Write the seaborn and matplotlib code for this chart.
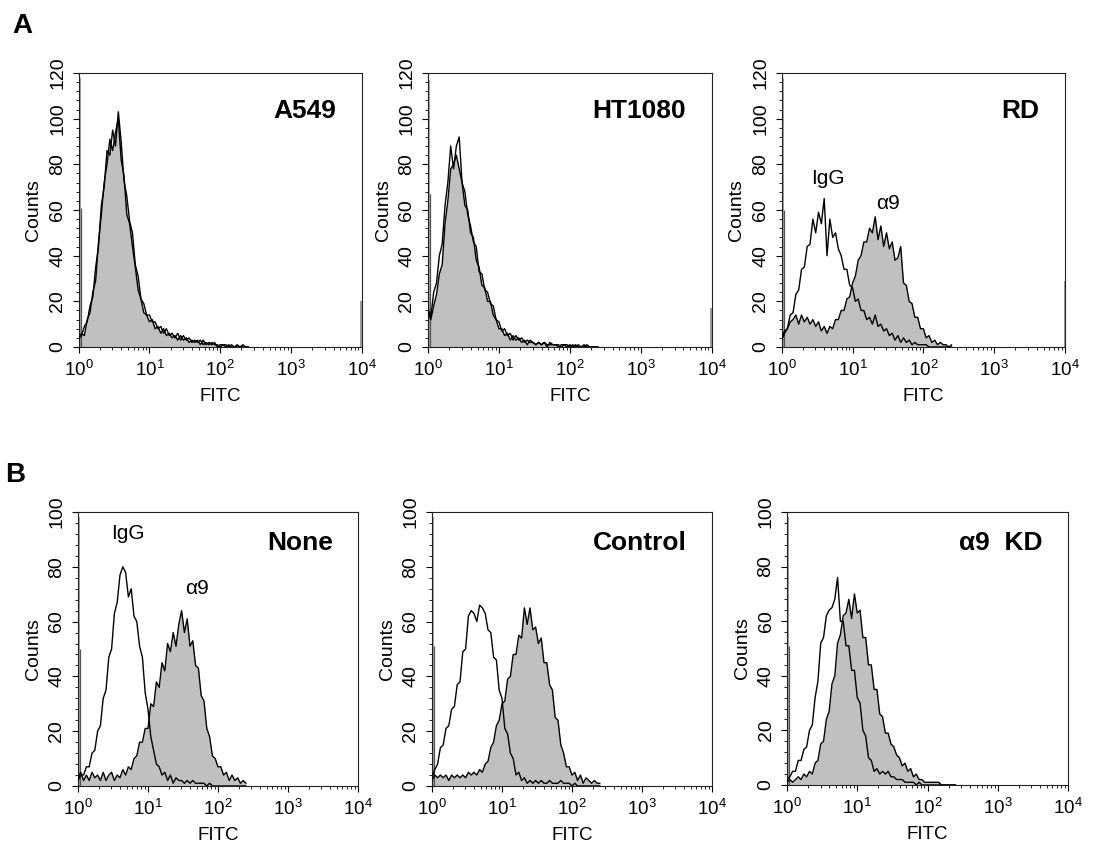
import numpy as np
import matplotlib
matplotlib.use('Agg')
import matplotlib.pyplot as plt
import seaborn as sns
from matplotlib.ticker import MultipleLocator, LogLocator, NullFormatter

sns.set_theme(style='white')
plt.rcParams['font.family'] = ['Liberation Sans', 'DejaVu Sans']
plt.rcParams['mathtext.fontset'] = 'custom'
plt.rcParams['mathtext.rm'] = 'Liberation Sans'
plt.rcParams['mathtext.it'] = 'Liberation Sans:italic'
plt.rcParams['mathtext.bf'] = 'Liberation Sans:bold'
for key in ['text.color', 'axes.labelcolor', 'xtick.color', 'ytick.color']:
    plt.rcParams[key] = 'black'

# ---------------- data ----------------
# channel grid: log10(FITC) from 0.00 to 2.40 in steps of 0.04
log_fitc = np.round(np.arange(61) * 0.04, 2)

titles = ['A549', 'HT1080', 'RD', 'None', 'Control', 'α9  KD']
y_max = [120, 120, 120, 100, 100, 100]

# filled histograms (alpha9 antibody) and open histograms (IgG control)
a549_a9 = [3, 6, 5, 12, 15, 24, 29, 46, 58, 72,
           80, 91, 86, 94, 100, 82, 75, 58, 54, 44,
           35, 25, 21, 15, 14, 11, 12, 8, 9, 6,
           8, 5, 6, 4, 5, 3, 5, 3, 4, 2,
           3, 2, 3, 1, 3, 1, 2, 1, 2, 0,
           1, 1, 0, 1, 0, 0, 1, 0, 0, 0, 0]
a549_igg = [4, 5, 9, 11, 18, 22, 35, 44, 62, 70,
            86, 84, 95, 88, 103, 90, 73, 66, 55, 50,
            36, 31, 21, 19, 14, 14, 11, 11, 8, 9,
            6, 8, 5, 6, 4, 6, 3, 5, 3, 4,
            2, 3, 2, 3, 1, 2, 1, 2, 1, 1,
            0, 1, 1, 0, 1, 0, 0, 0, 1, 0, 0]
ht1080_a9 = [15, 12, 18, 23, 32, 36, 54, 64, 78, 80,
             84, 78, 72, 62, 60, 50, 48, 38, 35, 27,
             26, 20, 20, 14, 12, 8, 8, 5, 6, 3,
             5, 3, 4, 2, 3, 1, 3, 2, 1, 2,
             1, 2, 0, 2, 1, 1, 0, 1, 1, 0,
             1, 0, 1, 0, 0, 1, 0, 0, 0, 0, 0]
ht1080_igg = [17, 13, 24, 28, 40, 45, 62, 72, 88, 78,
              88, 92, 72, 68, 58, 53, 46, 44, 33, 32,
              25, 24, 19, 18, 12, 11, 7, 8, 5, 6,
              3, 5, 3, 4, 2, 3, 2, 2, 1, 2,
              1, 2, 1, 1, 1, 1, 1, 0, 1, 1,
              0, 1, 0, 1, 0, 0, 1, 0, 0, 0, 0]
rd_a9 = [4, 7, 8, 11, 12, 14, 10, 14, 11, 13,
         10, 12, 9, 11, 7, 9, 6, 9, 8, 12,
         12, 16, 16, 21, 22, 28, 31, 38, 40, 46,
         46, 52, 50, 57, 47, 53, 44, 50, 43, 46,
         38, 39, 44, 28, 27, 20, 19, 13, 13, 8,
         8, 4, 5, 2, 3, 1, 2, 1, 1, 0, 1]
rd_igg = [3, 6, 8, 14, 15, 23, 25, 34, 35, 44,
          45, 56, 50, 59, 54, 65, 40, 56, 48, 50,
          43, 40, 34, 34, 27, 26, 20, 21, 16, 16,
          12, 13, 10, 14, 9, 10, 7, 8, 5, 6,
          3, 5, 2, 4, 2, 3, 1, 2, 1, 1,
          1, 1, 0, 0, 0, 0, 0, 0, 0, 0, 0]
none_a9 = [3, 5, 2, 4, 2, 5, 3, 4, 2, 5,
           2, 4, 5, 2, 4, 3, 6, 4, 7, 6,
           10, 11, 16, 16, 21, 21, 30, 29, 38, 36,
           45, 42, 52, 49, 56, 51, 59, 64, 56, 61,
           51, 53, 44, 43, 33, 31, 21, 18, 11, 10,
           7, 7, 4, 5, 2, 4, 2, 3, 1, 2, 1]
none_igg = [2, 4, 4, 7, 7, 12, 13, 20, 22, 32,
            35, 47, 50, 63, 67, 77, 80, 78, 69, 72,
            62, 60, 51, 47, 34, 28, 18, 13, 8, 7,
            4, 5, 2, 4, 1, 3, 2, 2, 1, 2,
            1, 2, 1, 1, 1, 1, 0, 1, 0, 0,
            0, 0, 0, 0, 0, 0, 0, 0, 0, 0, 0]
control_a9 = [2, 4, 3, 4, 3, 4, 2, 4, 3, 4,
              3, 4, 3, 5, 4, 5, 4, 6, 5, 8,
              9, 14, 16, 22, 24, 30, 31, 39, 40, 48,
              48, 55, 54, 65, 59, 65, 57, 58, 52, 54,
              45, 45, 37, 35, 25, 24, 15, 12, 7, 7,
              4, 5, 2, 4, 1, 3, 2, 1, 2, 1, 1]
control_igg = [3, 6, 8, 14, 15, 21, 22, 28, 29, 37,
               38, 49, 50, 62, 64, 63, 60, 66, 65, 63,
               57, 56, 47, 46, 35, 32, 21, 19, 12, 10,
               4, 5, 2, 3, 1, 2, 1, 2, 1, 2,
               1, 1, 2, 1, 1, 1, 2, 1, 1, 1,
               0, 1, 0, 0, 0, 0, 0, 0, 0, 0, 0]
kd_a9 = [1, 2, 1, 2, 3, 2, 4, 3, 5, 4,
         8, 9, 15, 16, 24, 27, 37, 40, 52, 55,
         62, 63, 68, 61, 70, 63, 64, 54, 54, 44,
         44, 35, 35, 26, 25, 19, 19, 15, 14, 11,
         10, 7, 8, 5, 6, 3, 4, 2, 2, 1,
         1, 1, 1, 1, 1, 0, 0, 0, 0, 0, 0]
kd_igg = [2, 3, 5, 5, 9, 9, 13, 14, 20, 22,
          32, 38, 52, 54, 62, 64, 65, 68, 76, 60,
          60, 51, 51, 42, 42, 32, 30, 20, 18, 10,
          9, 5, 6, 4, 5, 4, 5, 3, 3, 2,
          2, 2, 1, 1, 1, 1, 0, 1, 0, 0,
          0, 0, 0, 0, 0, 0, 0, 0, 0, 0, 0]

filled_series = [a549_a9, ht1080_a9, rd_a9, none_a9, control_a9, kd_a9]
open_series = [a549_igg, ht1080_igg, rd_igg, none_igg, control_igg, kd_igg]

# first / last channel pile-ups (counts)
first_channel_hi = [118, 117, 118, 98, 98, 98]
first_channel_lo = [61, 67, 60, 50, 51, 51]
last_channel = [20, 17, 29, 0, 0, 0]

# ---------------- layout ----------------
W, H = 1095, 857
boxes = [(78.7, 73, 283, 274), (428, 73, 283.7, 274), (781.7, 73, 283.3, 274),
         (78, 512, 280, 274), (432, 512, 280, 274), (787, 512, 281, 273)]

fig = plt.figure(figsize=(W / 100, H / 100), dpi=100)
fill_col = '#c0c0c0'

for k in range(6):
    l, t, w, h = boxes[k]
    ax = fig.add_axes([l / W, 1 - (t + h) / H, w / W, h / H])
    x = 10 ** log_fitc
    ax.fill_between(x, 0, filled_series[k], color=fill_col, lw=0, zorder=1)
    sns.lineplot(x=x, y=filled_series[k], ax=ax, color='black', lw=1.0,
                 estimator=None, sort=False, zorder=3)
    sns.lineplot(x=x, y=open_series[k], ax=ax, color='black', lw=1.0,
                 estimator=None, sort=False, zorder=3)
    ax.vlines(10 ** 0.018, 0, first_channel_hi[k], color='#9a9a9a', lw=1.3, zorder=2)
    ax.vlines(10 ** 0.032, 0, first_channel_lo[k], color='#555555', lw=0.9, zorder=2)
    if last_channel[k] > 0:
        ax.vlines(10 ** 3.994, 0, last_channel[k], color='#8a8a8a', lw=1.2, zorder=2)

    ax.set_xscale('log')
    ax.set_xlim(1, 1e4)
    ax.set_ylim(0, y_max[k])
    ax.xaxis.set_major_locator(LogLocator(base=10, numticks=10))
    ax.xaxis.set_minor_locator(LogLocator(base=10, subs=np.arange(2, 10), numticks=50))
    ax.xaxis.set_minor_formatter(NullFormatter())
    ax.yaxis.set_major_locator(MultipleLocator(20))
    ax.yaxis.set_minor_locator(MultipleLocator(4))
    ax.tick_params(axis='both', which='major', direction='out', length=4, width=0.8,
                   color='black', bottom=True, left=True, top=False, right=False)
    ax.tick_params(axis='both', which='minor', direction='out', length=2, width=0.6,
                   color='black', bottom=True, left=True, top=False, right=False)
    ax.tick_params(axis='x', labelsize=13.5, pad=5, labelcolor='black')
    ax.tick_params(axis='y', labelsize=14, pad=5, labelrotation=90, labelcolor='black')
    for lbl in ax.get_yticklabels():
        lbl.set_va('center')
    for s in ax.spines.values():
        s.set_visible(True)
        s.set_linewidth(0.8)
        s.set_color('#222222')
    ax.set_xlabel('FITC', fontsize=13.5, labelpad=6, color='black')
    ax.set_ylabel('Counts', fontsize=14, labelpad=5, color='black')
    ax.grid(False)
    ax.set_facecolor('white')

    ty = 0.86 if k < 3 else 0.887
    ax.text(0.91, ty, titles[k], transform=ax.transAxes, ha='right', va='center',
            fontsize=19, fontweight='bold', color='black')

    if k == 2:
        ax.text(10 ** 0.65, 74, 'IgG', ha='center', va='center', fontsize=15, color='black')
        ax.text(10 ** 1.50, 63, 'α9', ha='center', va='center', fontsize=15, color='black')
    if k == 3:
        ax.text(10 ** 0.71, 92, 'IgG', ha='center', va='center', fontsize=15, color='black')
        ax.text(10 ** 1.70, 72, 'α9', ha='center', va='center', fontsize=15, color='black')

fig.text(12.7 / W, 1 - 33 / H, 'A', fontsize=20, fontweight='bold', ha='left',
         va='baseline', color='black')
fig.text(5 / W, 1 - 482 / H, 'B', fontsize=20, fontweight='bold', ha='left',
         va='baseline', color='black')

fig.savefig('out.png', dpi=100, facecolor='white')
